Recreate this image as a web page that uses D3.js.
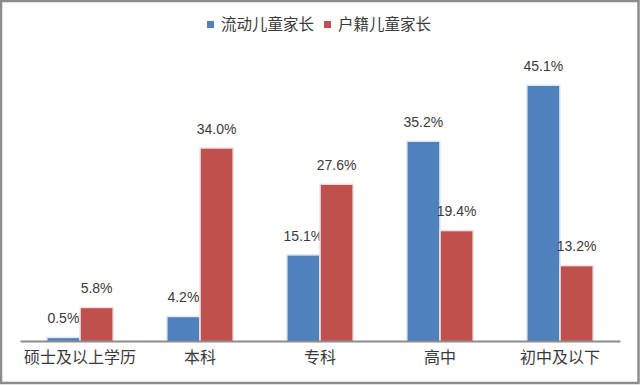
<!DOCTYPE html>
<html>
<head>
<meta charset="utf-8">
<script src="https://cdn.jsdelivr.net/npm/d3@7/dist/d3.min.js"></script>
<style>
    body { margin: 0; background: #fff; }
    svg { display: block; font-family: "Noto Sans CJK SC", "Liberation Sans", sans-serif; }
</style>
</head>
<body>
<svg id="chart" width="640" height="385"></svg>
<script>
// categories and values (percent)
var categories = ["硕士及以上学历", "本科", "专科", "高中", "初中及以下"];
var seriesNames = ["流动儿童家长", "户籍儿童家长"];
var migrant = [0.5, 4.2, 15.1, 35.2, 45.1];
var local = [5.8, 34.0, 27.6, 19.4, 13.2];
var colors = ["#4f81bd", "#c0504d"];

var svg = d3.select("#chart");
var width = 640, height = 385;
var baseY = 341;

// outer frame
svg.append("rect")
        .attr("x", 1).attr("y", 1)
        .attr("width", width - 2.5).attr("height", height - 3)
        .attr("fill", "#fff")
        .attr("stroke", "#8c8c8c")
        .attr("stroke-width", 2.5);

var x0 = d3.scaleBand()
        .domain(categories)
        .range([20, 620])
        .paddingInner(0.46)
        .paddingOuter(0.23);

var x1 = d3.scaleBand()
        .domain([0, 1])
        .range([0, x0.bandwidth()])
        .paddingInner(0.05);

var y = d3.scaleLinear()
        .domain([0, 45.1])
        .range([baseY, 86]);

var rows = categories.map(function (c, i) {
    return {cat: c, vals: [migrant[i], local[i]]};
});

var groups = svg.selectAll("g.grp")
        .data(rows)
        .enter().append("g")
        .attr("class", "grp")
        .attr("transform", function (d) {
            return "translate(" + x0(d.cat) + ",0)";
        });

var bars = groups.selectAll("g.bar")
        .data(function (d) {
            return d.vals.map(function (v, k) { return {v: v, k: k}; });
        })
        .enter().append("g").attr("class", "bar");

// faint glow behind bars
bars.append("rect")
        .attr("x", function (d) { return x1(d.k) - 1.5; })
        .attr("y", function (d) { return y(d.v) - 1.5; })
        .attr("width", x1.bandwidth() + 3)
        .attr("height", function (d) { return baseY - y(d.v) + 1.5; })
        .attr("fill", function (d) { return d.k === 0 ? "#dfe8f3" : "#f3dfdf"; });

bars.append("rect")
        .attr("x", function (d) { return x1(d.k); })
        .attr("y", function (d) { return y(d.v); })
        .attr("width", x1.bandwidth())
        .attr("height", function (d) { return baseY - y(d.v); })
        .attr("fill", function (d) { return colors[d.k]; });

bars.append("text")
        .attr("x", function (d) { return x1(d.k) + x1.bandwidth() / 2; })
        .attr("y", function (d) { return y(d.v) - 15; })
        .attr("text-anchor", "middle")
        .attr("font-family", "'Liberation Sans', Arial, sans-serif")
        .attr("font-size", 14)
        .attr("fill", "#3a3a3a")
        .text(function (d) { return d.v.toFixed(1) + "%"; });

// x axis
var xAxis = d3.axisBottom(x0).tickSize(0).tickPadding(11);
var ax = svg.append("g")
        .attr("transform", "translate(0," + baseY + ")")
        .call(xAxis);
ax.select(".domain").attr("stroke", "#8c8c8c").attr("stroke-width", 2);
ax.selectAll("text")
        .attr("font-size", 16)
        .attr("font-family", "'Noto Sans CJK SC', sans-serif")
        .attr("fill", "#3a3a3a");

// legend
var legend = svg.append("g").attr("transform", "translate(207,25)");
var legX = [0, 117];
seriesNames.forEach(function (name, i) {
    var g = legend.append("g").attr("transform", "translate(" + legX[i] + ",0)");
    g.append("rect")
            .attr("x", 0).attr("y", -4)
            .attr("width", 7).attr("height", 7)
            .attr("fill", colors[i]);
    g.append("text")
            .attr("x", 14).attr("y", 0)
            .attr("dy", "0.35em")
            .attr("font-size", 15.5)
            .attr("fill", "#3a3a3a")
            .text(name);
});
</script>
</body>
</html>
